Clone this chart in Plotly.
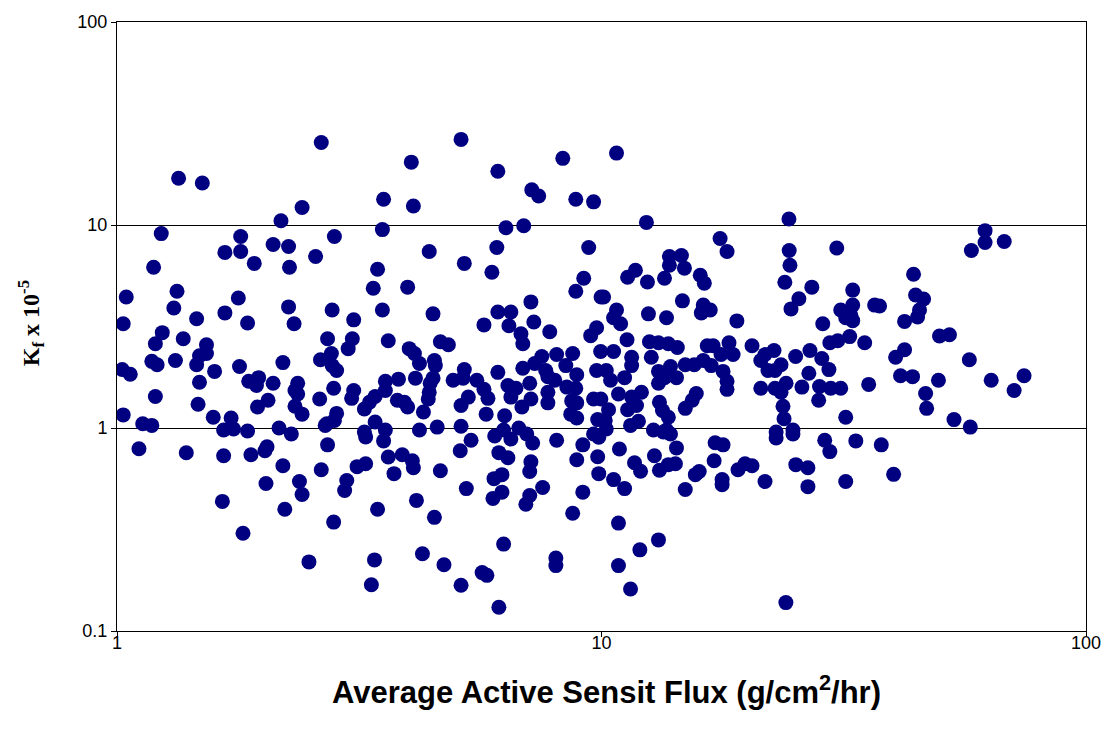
import plotly.graph_objects as go

# Average active sensit flux (g/cm2/hr) and Kf (x 1e-5) for each sample
flux = [
    1.34, 1.50, 2.64, 2.41, 2.18, 5.13, 4.05, 6.11, 8.32, 3.55, 4.09, 7.18, 7.42, 8.85, 9.63, 6.35, 6.91,
    10.74, 12.38, 24.37, 61.9, 61.9, 67.8, 58.0,
    1.234, 1.80, 1.67, 1.80, 2.10, 2.26, 2.81, 1.19, 1.92, 2.27, 2.57, 1.33, 1.045, 1.78, 1.31, 2.26,
    2.78, 1.67, 1.46, 1.03, 1.86, 2.32, 3.08, 1.24, 1.37, 1.20, 1.53, 2.72, 3.06, 3.00, 1.48, 1.53,
    1.32, 1.18, 1.21, 1.46, 1.025, 1.065, 1.59, 1.79, 2.20, 2.63, 2.77, 2.78, 2.84, 1.48, 1.87, 1.96,
    1.94, 2.10, 2.36, 2.33, 2.36, 2.80, 3.08, 3.05, 1.20, 2.62, 1.47, 1.95, 2.05, 2.33, 2.41, 2.84,
    1.03, 1.58, 1.72, 1.13, 1.18, 2.71, 2.81,
    1.66, 1.74, 1.86, 2.16, 2.29, 2.69, 1.11, 1.39, 1.66, 1.89, 2.04, 2.02, 2.20, 2.72, 2.64, 3.13,
    2.03, 2.38, 2.41, 2.98, 2.95, 1.65, 2.22, 2.80, 1.82, 2.49,
    3.53, 4.41, 6.08, 9.41, 3.45, 5.21, 5.94, 3.38, 3.98, 9.19, 8.85, 9.98, 3.53, 4.49, 7.15, 6.11,
    6.50, 5.72, 6.44, 7.25, 7.82, 6.82, 6.88, 9.77, 9.50, 3.63, 4.65, 4.83, 4.01, 4.11, 4.21, 4.52,
    4.54, 9.96, 8.08, 8.72, 7.53, 7.28, 8.44, 5.21, 6.88, 7.67, 7.75, 6.11, 9.77, 8.89, 3.81, 4.13,
    3.58, 4.49, 4.43, 4.94, 5.18, 5.53, 7.11, 8.01, 8.48, 8.85, 3.58, 3.41, 5.72, 6.41, 6.66, 7.75,
    3.32, 3.24, 3.79, 3.92, 3.98, 4.41, 4.39, 5.31, 5.13, 5.83, 6.50, 7.15, 6.85, 7.75, 8.68, 8.89,
    9.63, 9.97, 4.29, 5.78, 6.31, 8.64, 8.89, 3.41, 9.82, 3.24, 3.58, 4.21, 4.58, 5.13, 6.28, 6.75,
    9.63,
    3.26, 3.55, 5.38, 6.02, 6.50, 7.01, 7.21, 8.08, 9.15, 3.26, 3.63, 3.88, 4.07, 4.09, 3.73, 4.65,
    5.11, 6.14, 6.41, 7.15, 7.11, 6.00, 6.23, 8.89, 9.82, 9.87, 5.26, 5.97, 6.23, 7.11, 6.98, 7.56,
    9.15, 3.45, 4.15, 4.52, 8.72, 6.28, 3.40, 4.27, 4.73, 5.67, 5.80, 8.05, 8.05, 3.35, 5.13, 6.14,
    17.57, 18.16, 13.81, 14.62, 13.81, 14.83, 11.75, 11.32, 12.44, 13.49, 15.99, 16.30, 24.4, 24.49,
    23.90, 27.17, 30.59, 33.00, 10.10, 14.69, 25.55, 24.61, 10.74, 10.59, 10.95, 12.50, 13.62, 16.22,
    16.77, 16.07, 19.03, 28.62, 31.17, 31.92, 11.29, 12.56, 13.11, 13.74, 14.34, 16.53, 17.00, 18.33,
    20.45, 29.60, 30.73, 10.59, 11.54, 12.67, 17.65, 18.69, 21.75, 22.70, 25.16, 26.93, 28.49, 29.47,
    10.23, 11.54, 10.44, 11.16, 13.11, 13.88, 13.49, 14.28, 13.11, 14.89, 15.54, 16.22, 16.84, 17.82,
    18.16, 18.16, 21.32, 22.06, 22.81, 23.47, 26.79, 21.32, 22.81, 24.04, 23.47, 25.92, 28.18, 29.73,
    31.17, 10.84, 11.54, 12.09, 11.81, 11.32, 10.34, 10.18, 13.17, 13.36, 13.74, 15.69, 14.89, 15.39,
    23.69, 23.81, 28.07, 31.92, 11.48, 11.92, 12.80, 13.62, 22.93, 24.84,
    10.23, 9.87, 13.42, 13.88, 10.89, 14.28, 12.86, 11.70, 12.04, 13.17, 13.74, 14.21, 10.59, 11.16,
    14.89, 15.62, 15.91, 17.16, 17.82, 17.08, 17.74, 17.74, 19.13, 19.78, 20.45, 21.75, 22.93, 24.84,
    25.18, 26.67, 26.67, 28.89, 29.60, 31.92, 10.84, 13.11, 12.00, 10.84, 11.48, 24.02,
    44.06, 44.48, 46.22, 33.00, 32.69, 33.00, 36.62, 37.49, 45.33, 44.91, 42.22, 32.53, 34.93, 42.22,
    40.46, 49.84, 52.26, 57.44, 41.42, 43.85, 49.60, 46.66, 46.89, 63.73, 74.50, 71.06, 35.6, 53.4,
    57.7, 33.49, 37.80, 40.08,
]

kf = [
    17.0, 16.1, 25.5, 12.2, 10.5, 26.4, 20.4, 18.4, 21.3, 13.4, 12.4, 14.9, 13.9, 13.4, 13.0, 9.70, 9.92,
    22.6, 10.3, 10.7, 9.38, 8.20, 8.29, 7.49,
    9.07, 8.77, 7.33, 7.41, 8.01, 7.84, 8.77, 6.19, 6.47, 6.19, 7.00, 4.72, 4.42, 4.37, 3.90, 3.95,
    3.81, 3.69, 3.45, 3.26, 3.29, 3.26, 3.41, 2.95, 2.75, 2.60, 2.57, 2.75, 2.75, 2.46, 2.27, 2.33,
    2.15, 2.13, 2.05, 2.05, 1.94, 1.84, 1.90, 2.01, 2.10, 2.17, 2.33, 2.03, 1.92, 1.68, 1.70, 1.77,
    1.62, 1.66, 1.66, 1.53, 1.47, 1.57, 1.53, 1.40, 1.43, 1.39, 1.31, 1.27, 1.37, 1.28, 1.17, 1.18,
    1.16, 1.13, 1.12, 1.05, 1.03, 1.05, 1.09,
    0.978, 0.989, 0.967, 1.00, 0.935, 1.03, 0.79, 0.755, 0.730, 0.738, 0.808, 0.772, 0.652, 0.826,
    0.623, 0.645, 0.533, 0.545, 0.470, 0.551, 0.492, 0.435, 0.398, 0.344, 0.303, 0.219,
    9.49, 7.41, 7.75, 7.75, 6.05, 6.47, 5.85, 4.88, 4.94, 5.47, 4.72, 4.42, 3.81, 3.65, 4.18, 3.73,
    3.73, 3.22, 3.19, 3.33, 2.98, 2.91, 2.60, 3.12, 2.85, 2.69, 2.66, 2.57, 2.46, 2.33, 2.08, 2.15,
    2.03, 2.38, 2.30, 2.33, 2.25, 2.08, 2.03, 1.94, 1.97, 1.92, 1.79, 1.88, 1.92, 1.83, 1.74, 1.76,
    1.70, 1.76, 1.66, 1.72, 1.76, 1.72, 1.66, 1.72, 1.59, 1.57, 1.53, 1.43, 1.55, 1.62, 1.57, 1.50,
    1.34, 1.24, 1.37, 1.34, 1.27, 1.50, 1.39, 1.42, 1.29, 1.40, 1.42, 1.39, 1.27, 1.33, 1.36, 1.33,
    1.39, 1.39, 1.20, 1.17, 1.15, 1.17, 1.12, 1.07, 1.10, 0.956, 0.978, 0.978, 1.01, 1.02, 0.978, 1.00,
    0.935,
    0.903, 0.864, 0.871, 0.913, 0.882, 0.935, 0.844, 0.871, 0.826, 0.667, 0.720, 0.738, 0.690, 0.637,
    0.596, 0.616, 0.772, 0.756, 0.714, 0.682, 0.611, 0.563, 0.589, 0.698, 0.722, 0.596, 0.503, 0.450,
    0.483, 0.465, 0.421, 0.509, 0.483, 0.398, 0.440, 0.363, 0.380, 0.268, 0.224, 0.240, 0.212, 0.194,
    0.188, 0.229, 0.210, 0.169, 0.168, 0.131,
    8.58, 7.41, 7.00, 7.08, 6.33, 6.13, 5.99, 5.53, 5.24, 5.47, 5.66, 5.17, 7.49, 6.33,
    5.22, 4.94, 7.70, 4.78, 4.42, 4.23, 4.33, 3.86, 3.81, 3.49, 3.26, 3.65, 3.49, 4.03,
    3.81, 3.69, 3.37, 3.26, 3.81, 3.49, 2.72, 2.66, 2.63, 2.60, 2.49, 2.54, 2.54, 2.63,
    2.54, 2.63, 2.69, 2.38, 2.23, 2.23, 2.30, 2.30, 2.30, 2.41, 2.25, 2.41, 2.20, 1.94,
    1.92, 2.03, 1.72, 1.77, 1.90, 2.01, 1.77, 1.77, 1.66, 2.05, 2.05, 2.15, 2.03, 1.90,
    1.70, 1.55, 2.15, 1.92, 1.92, 2.05, 1.86, 1.57, 1.57, 1.66, 1.50, 1.59, 1.60, 1.57,
    1.57, 1.47, 1.42, 1.50, 1.29, 1.23, 1.23, 1.09, 1.34, 1.22, 1.13, 1.48, 1.25, 1.37,
    1.28, 1.11, 1.37, 1.13, 1.03, 1.08, 0.978, 0.978, 0.956, 0.978,
    0.989, 0.901, 0.956, 0.935, 0.788, 0.798, 0.730, 0.674, 0.612, 0.619, 0.660, 0.667, 0.557, 0.503,
    0.498, 0.589, 0.611, 0.846, 0.826, 0.690, 0.557, 0.526, 0.623, 0.667, 0.652, 0.545, 0.893, 0.935,
    0.660, 0.637, 0.514, 0.871, 0.765, 0.545, 0.340, 0.281, 0.251, 0.210, 0.161, 0.138,
    5.72, 4.52, 4.32, 4.03, 3.60, 3.38, 4.03, 3.99, 3.81, 3.52, 3.35, 2.82, 2.63, 2.43,
    2.23, 2.84, 2.88, 2.17, 1.81, 1.79, 1.72, 1.48, 1.25, 1.72, 1.81, 1.53, 1.64, 1.10,
    1.01, 0.864, 0.826, 0.591,
]

x_ticks = [1, 10, 100]
x_tick_text = ["1", "10", "100"]
y_ticks = [0.1, 1, 10, 100]
y_tick_text = ["0.1", "1", "10", "100"]

tick_font = dict(family="Liberation Sans, Arial, sans-serif", size=18, color="black")

fig = go.Figure(
    go.Scatter(
        x=flux,
        y=kf,
        mode="markers",
        marker=dict(color="#000080", size=15, line=dict(width=0)),
        showlegend=False,
    )
)

fig.update_layout(
    width=1113,
    height=736,
    margin=dict(l=117, r=24, t=17, b=105),
    paper_bgcolor="white",
    plot_bgcolor="white",
    font=dict(family="Liberation Sans, Arial, sans-serif", size=18, color="black"),
    annotations=[
        dict(
            text="<b>Average Active Sensit Flux (g/cm<sup>2</sup>/hr)</b>",
            xref="paper", yref="paper", x=0.505, y=-0.097,
            xanchor="center", yanchor="middle", showarrow=False,
            font=dict(family="Liberation Sans, Arial, sans-serif", size=31, color="black"),
        ),
        dict(
            text="<b>K<sub>f</sub> x 10<sup>-5</sup></b>",
            xref="paper", yref="paper", x=-0.088, y=0.505,
            xanchor="center", yanchor="middle", textangle=-90, showarrow=False,
            font=dict(family="Liberation Serif, Times New Roman, serif", size=24, color="black"),
        ),
    ],
)

fig.update_xaxes(
    type="log", range=[0, 2],
    tickvals=x_ticks, ticktext=x_tick_text, tickfont=tick_font,
    showgrid=False, zeroline=False,
    showline=True, linecolor="black", linewidth=1, mirror=True,
    ticks="outside", ticklen=5, tickcolor="black", ticklabelstandoff=-10,
)
fig.update_yaxes(
    type="log", range=[-1, 2],
    tickvals=y_ticks, ticktext=y_tick_text, tickfont=tick_font,
    showgrid=True, gridcolor="black", gridwidth=1, zeroline=False,
    showline=True, linecolor="black", linewidth=1, mirror=True,
    ticks="outside", ticklen=5, tickcolor="black",
)

fig.write_html("out.html")
